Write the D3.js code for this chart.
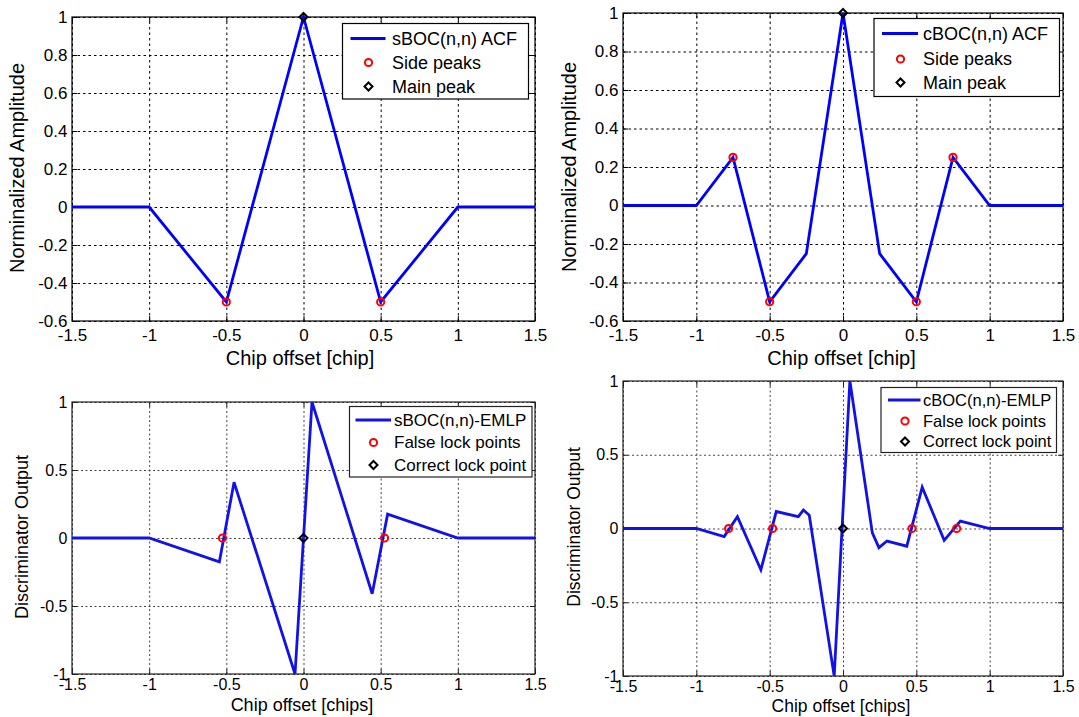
<!DOCTYPE html>
<html>
<head>
<meta charset="utf-8">
<script src="https://cdn.jsdelivr.net/npm/d3@7"></script>
<style>
body { margin: 0; background: #fff; }
svg text { font-family: "Liberation Sans", Arial, Helvetica, sans-serif; fill: #000; }
</style>
</head>
<body>
<svg id="chart" width="1079" height="717"></svg>
<script>
// ----- tick values -----
var chipTicks = [-1.5, -1, -0.5, 0, 0.5, 1, 1.5];
var acfTicks = [-0.6, -0.4, -0.2, 0, 0.2, 0.4, 0.6, 0.8, 1];
var emlpTicks = [-1, -0.5, 0, 0.5, 1];

// ----- sBOC(n,n) ACF -----
var sbocAcfX = [-1.5, -1, -0.5, 0, 0.5, 1, 1.5];
var sbocAcfY = [0, 0, -0.5, 1, -0.5, 0, 0];
var sbocSideX = [-0.5, 0.5];
var sbocSideY = [-0.5, -0.5];

// ----- cBOC(n,n) ACF -----
var cbocAcfX = [-1.5, -1, -0.75, -0.5, -0.25, 0, 0.25, 0.5, 0.75, 1, 1.5];
var cbocAcfY = [0, 0, 0.25, -0.5, -0.25, 1, -0.25, -0.5, 0.25, 0, 0];
var cbocSideX = [-0.75, -0.5, 0.5, 0.75];
var cbocSideY = [0.25, -0.5, -0.5, 0.25];

var mainPeakX = [0];
var mainPeakY = [1];

// ----- sBOC(n,n)-EMLP discriminator -----
var sbocEmlpX = [-1.5, -1, -0.545, -0.45, -0.055, 0.055, 0.445, 0.545, 1, 1.5];
var sbocEmlpY = [0, 0, -0.175, 0.41, -1, 1, -0.41, 0.175, 0, 0];
var sbocFalseX = [-0.525, 0.525];
var sbocFalseY = [0, 0];

// ----- cBOC(n,n)-EMLP discriminator -----
var cbocEmlpX = [-1.5, -1, -0.81, -0.72, -0.56, -0.455, -0.305, -0.27, -0.23, -0.06, 0.047, 0.2, 0.245, 0.3, 0.435, 0.54, 0.69, 0.8, 1, 1.5];
var cbocEmlpY = [0, 0, -0.055, 0.08, -0.28, 0.115, 0.08, 0.125, 0.09, -1, 1, -0.03, -0.13, -0.085, -0.12, 0.28, -0.08, 0.05, 0, 0];
var cbocFalseX = [-0.78, -0.48, 0.47, 0.775];
var cbocFalseY = [0, 0, 0, 0];

var lockX = [0];
var lockY = [0];

var svg = d3.select("#chart");

function zip(xs, ys) {
    return xs.map(function(d, i) { return [d, ys[i]]; });
}

function diamond(cx, cy, s) {
    return "M" + cx + "," + (cy - s) + "L" + (cx + s) + "," + cy +
           "L" + cx + "," + (cy + s) + "L" + (cx - s) + "," + cy + "Z";
}

var fmt = function(d) { return String(d); };

function drawPanel(p) {
    var g = svg.append("g");
    var x = d3.scaleLinear().domain([-1.5, 1.5]).range([p.left, p.right]);
    var y = d3.scaleLinear().domain(p.yDomain).range([p.bottom, p.top]);
    var w = p.right - p.left, h = p.bottom - p.top;

    // grid + tick labels
    var gx = g.append("g")
        .attr("transform", "translate(0," + p.bottom + ")")
        .call(d3.axisBottom(x).tickValues(chipTicks).tickSize(-h)
              .tickPadding(p.xPad).tickFormat(fmt));
    var gy = g.append("g")
        .attr("transform", "translate(" + p.left + ",0)")
        .call(d3.axisLeft(y).tickValues(p.yTicks).tickSize(-w)
              .tickPadding(4.5).tickFormat(fmt));
    [gx, gy].forEach(function(a) {
        a.select(".domain").remove();
        a.selectAll(".tick line")
            .attr("stroke", p.gridColor)
            .attr("stroke-width", 1)
            .attr("stroke-dasharray", p.gridDash);
        a.selectAll(".tick text")
            .attr("font-size", p.tickFont)
            .attr("fill", p.textColor)
            .attr("font-family", null);
    });

    // small inward ticks on all four sides
    var inTicks = [
        [d3.axisBottom(x).tickValues(chipTicks), "translate(0," + p.bottom + ")"],
        [d3.axisTop(x).tickValues(chipTicks), "translate(0," + p.top + ")"],
        [d3.axisLeft(y).tickValues(p.yTicks), "translate(" + p.left + ",0)"],
        [d3.axisRight(y).tickValues(p.yTicks), "translate(" + p.right + ",0)"]
    ];
    inTicks.forEach(function(t) {
        var a = g.append("g").attr("transform", t[1])
            .call(t[0].tickSize(-5).tickFormat(""));
        a.select(".domain").remove();
        a.selectAll(".tick line").attr("stroke", p.frameColor);
    });

    // frame
    g.append("rect")
        .attr("x", p.left).attr("y", p.top)
        .attr("width", w).attr("height", h)
        .attr("fill", "none")
        .attr("stroke", p.frameColor)
        .attr("stroke-width", 1.2);

    // curve
    var line = d3.line().x(function(d) { return x(d[0]); }).y(function(d) { return y(d[1]); });
    g.append("path")
        .datum(zip(p.xs, p.ys))
        .attr("d", line)
        .attr("fill", "none")
        .attr("stroke", p.lineColor)
        .attr("stroke-width", 2.8)
        .attr("stroke-linejoin", "miter");

    // red circles
    g.selectAll("circle.side")
        .data(zip(p.redX, p.redY))
        .enter().append("circle")
        .attr("class", "side")
        .attr("cx", function(d) { return x(d[0]); })
        .attr("cy", function(d) { return y(d[1]); })
        .attr("r", 3.6)
        .attr("fill", "none")
        .attr("stroke", "#f00")
        .attr("stroke-width", 2);

    // black diamond
    g.selectAll("path.main")
        .data(zip(p.blackX, p.blackY))
        .enter().append("path")
        .attr("class", "main")
        .attr("d", function(d) { return diamond(x(d[0]), y(d[1]), 4); })
        .attr("fill", "none")
        .attr("stroke", "#000")
        .attr("stroke-width", 2);

    // axis labels
    g.append("text")
        .attr("x", p.xLabel[0]).attr("y", p.xLabel[1])
        .attr("dy", "0.35em")
        .attr("text-anchor", "middle")
        .attr("font-size", p.labelFont)
        .attr("fill", p.textColor)
        .text(p.xTitle);
    g.append("text")
        .attr("transform", "translate(" + p.yLabel[0] + "," + p.yLabel[1] + ") rotate(-90)")
        .attr("dy", "0.35em")
        .attr("text-anchor", "middle")
        .attr("font-size", p.yLabelFont)
        .attr("fill", p.textColor)
        .text(p.yTitle);

    // legend
    var L = p.legend;
    var lg = g.append("g");
    lg.append("rect")
        .attr("x", L.box[0]).attr("y", L.box[1])
        .attr("width", L.box[2] - L.box[0]).attr("height", L.box[3] - L.box[1])
        .attr("fill", "#fff")
        .attr("stroke", p.frameColor)
        .attr("stroke-width", 1.2);
    lg.append("line")
        .attr("x1", L.line[0]).attr("x2", L.line[1])
        .attr("y1", L.rows[0]).attr("y2", L.rows[0])
        .attr("stroke", p.lineColor)
        .attr("stroke-width", 2.8);
    lg.append("circle")
        .attr("cx", L.marker).attr("cy", L.rows[1])
        .attr("r", 3.6)
        .attr("fill", "none")
        .attr("stroke", "#f00")
        .attr("stroke-width", 2);
    lg.append("path")
        .attr("d", diamond(L.marker, L.rows[2], 4))
        .attr("fill", "none")
        .attr("stroke", "#000")
        .attr("stroke-width", 2);
    lg.selectAll("text")
        .data(L.labels)
        .enter().append("text")
        .attr("x", L.text)
        .attr("y", function(d, i) { return L.rows[i]; })
        .attr("dy", "0.35em")
        .attr("font-size", L.font)
        .attr("fill", p.textColor)
        .text(function(d) { return d; });
}

var topStyle = {
    yDomain: [-0.6, 1], yTicks: acfTicks,
    gridColor: "#000", gridDash: "2.5,3", frameColor: "#000",
    lineColor: "#0000ff", textColor: "#000",
    tickFont: 17, labelFont: 20, yLabelFont: 20, xPad: 8,
    xTitle: "Chip offset [chip]", yTitle: "Norminalized Amplitude"
};
var bottomStyle = {
    yDomain: [-1, 1], yTicks: emlpTicks,
    gridColor: "#444", gridDash: "2,2.5", frameColor: "#222",
    lineColor: "#1212e6", textColor: "#1a1a1a",
    tickFont: 16, labelFont: 18, yLabelFont: 18, xPad: 5,
    xTitle: "Chip offset [chips]", yTitle: "Discriminator Output"
};

var panels = [
    Object.assign({}, topStyle, {
        left: 72, right: 535, top: 17, bottom: 321,
        xs: sbocAcfX, ys: sbocAcfY,
        redX: sbocSideX, redY: sbocSideY, blackX: mainPeakX, blackY: mainPeakY,
        xLabel: [300, 358], yLabel: [17, 168],
        legend: {
            box: [342.5, 23.5, 528.5, 99], rows: [38.5, 62.5, 86.5],
            line: [350.5, 385.5], marker: 368.5, text: 392, font: 18,
            labels: ["sBOC(n,n) ACF", "Side peaks", "Main peak"]
        }
    }),
    Object.assign({}, topStyle, {
        left: 623, right: 1063, top: 13, bottom: 321,
        xs: cbocAcfX, ys: cbocAcfY,
        redX: cbocSideX, redY: cbocSideY, blackX: mainPeakX, blackY: mainPeakY,
        xLabel: [841.5, 358], yLabel: [569, 167],
        legend: {
            box: [874, 18.5, 1059.5, 96.5], rows: [33.5, 59, 82.5],
            line: [882, 918], marker: 900.5, text: 923, font: 18,
            labels: ["cBOC(n,n) ACF", "Side peaks", "Main peak"]
        }
    }),
    Object.assign({}, bottomStyle, {
        left: 72, right: 535, top: 402, bottom: 674,
        xs: sbocEmlpX, ys: sbocEmlpY,
        redX: sbocFalseX, redY: sbocFalseY, blackX: lockX, blackY: lockY,
        xLabel: [302, 705], yLabel: [22, 537], yLabelFont: 18,
        legend: {
            box: [349.5, 406.5, 532, 477], rows: [420, 442.5, 465],
            line: [355.5, 391], marker: 373.5, text: 394, font: 17,
            labels: ["sBOC(n,n)-EMLP", "False lock points", "Correct lock point"]
        }
    }),
    Object.assign({}, bottomStyle, {
        left: 623, right: 1063, top: 381, bottom: 676,
        xs: cbocEmlpX, ys: cbocEmlpY,
        redX: cbocFalseX, redY: cbocFalseY, blackX: lockX, blackY: lockY,
        xLabel: [841, 706], yLabel: [574, 527], yLabelFont: 17.5, labelFont: 17.5,
        legend: {
            box: [881, 387.5, 1056.5, 452.5], rows: [400, 421, 441.5],
            line: [888, 920.5], marker: 905, text: 923, font: 16.5,
            labels: ["cBOC(n,n)-EMLP", "False lock points", "Correct lock point"]
        }
    })
];

panels.forEach(drawPanel);
</script>
</body>
</html>
